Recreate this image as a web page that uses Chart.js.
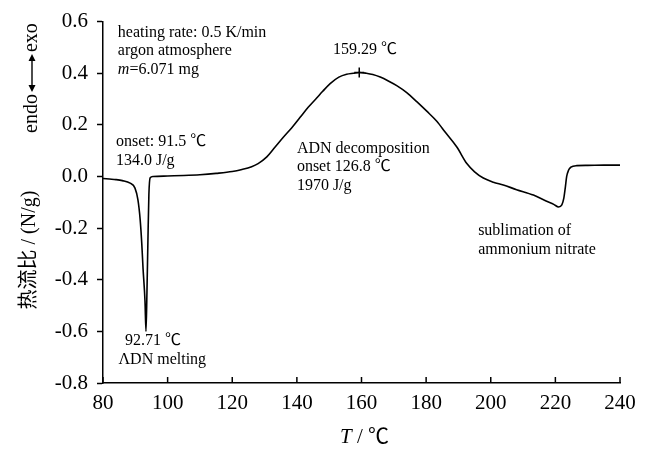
<!DOCTYPE html>
<html>
<head>
<meta charset="utf-8">
<script src="https://cdn.jsdelivr.net/npm/chart.js@4"></script>
<style>
  body { margin: 0; background: #fff; }
  canvas { display: block; }
</style>
</head>
<body>
<canvas id="dscChart" width="648" height="461"></canvas>
<script>
// DSC curve
const temps = [80, 82, 84, 86, 88.4, 89.9, 90.8, 91.5, 92.0, 92.4, 93.0, 93.3, 93.6, 93.9, 94.2, 94.6, 95.5,
  100, 105, 110, 115, 120, 123, 126, 128, 130.7, 133, 135.8, 138.5, 141, 143.5, 146.2, 148, 150.3, 153, 155.4,
  157.5, 159.3, 161.5, 163.5, 165.8, 168.3, 170.9, 174, 177.1, 180.2, 183.3, 186, 189.5, 192.6, 195, 197.7,
  200.8, 203.9, 208, 213.2, 217.3, 219.5, 221, 222, 222.6, 223.1, 223.5, 224.1, 224.8, 226.6, 230, 235, 240];
const heatFlow = [-0.008, -0.010, -0.012, -0.016, -0.026, -0.045, -0.09, -0.167, -0.26, -0.358, -0.484, -0.60, -0.45, -0.25, -0.07, -0.005, 0.0,
  0.002, 0.004, 0.007, 0.012, 0.019, 0.027, 0.038, 0.05, 0.076, 0.11, 0.152, 0.19, 0.229, 0.268, 0.305, 0.33, 0.36, 0.385, 0.396,
  0.40, 0.403, 0.40, 0.395, 0.385, 0.37, 0.352, 0.325, 0.29, 0.253, 0.214, 0.17, 0.114, 0.05, 0.018, -0.006,
  -0.022, -0.033, -0.051, -0.072, -0.096, -0.108, -0.118, -0.11, -0.085, -0.04, 0.0, 0.025, 0.036, 0.042, 0.043, 0.044, 0.044];

// decomposition peak marker
const peakT = [159.3];
const peakV = [0.403];

// axis ticks
const xTicks = [80, 100, 120, 140, 160, 180, 200, 220, 240];
const yTicks = [-0.8, -0.6, -0.4, -0.2, 0.0, 0.2, 0.4, 0.6];

// text notes: [text, T, heat flow, align]
const notes = [
  ['heating rate: 0.5 K/min', 84.6, 0.558, 'left'],
  ['argon atmosphere', 84.6, 0.486, 'left'],
  ['=6.071 mg', 84.6, 0.413, 'left', 'm'],
  ['onset: 91.5 ℃', 84.0, 0.135, 'left'],
  ['134.0 J/g', 84.0, 0.062, 'left'],
  ['159.29 ℃', 161.1, 0.489, 'center'],
  ['ADN decomposition', 140.0, 0.108, 'left'],
  ['onset 126.8 ℃', 140.0, 0.039, 'left'],
  ['1970 J/g', 140.0, -0.037, 'left'],
  ['92.71 ℃', 86.8, -0.636, 'left'],
  ['ΛDN melting', 84.8, -0.709, 'left'],
  ['sublimation of', 196.1, -0.209, 'left'],
  ['ammonium nitrate', 196.1, -0.285, 'left']
];

const serif = "'Liberation Serif', 'Noto Sans CJK SC', serif";

// text, inward x ticks and axis titles
const decorPlugin = {
  id: 'decor',
  afterDraw(chart) {
    const ctx = chart.ctx;
    const xs = chart.scales.x, ys = chart.scales.y;
    const area = chart.chartArea;
    ctx.save();
    ctx.strokeStyle = '#000';
    ctx.fillStyle = '#000';

    // x ticks point inward
    ctx.lineWidth = 1.5;
    xTicks.forEach(t => {
      const px = xs.getPixelForValue(t);
      ctx.beginPath();
      ctx.moveTo(px, area.bottom);
      ctx.lineTo(px, area.bottom - 6);
      ctx.stroke();
    });

    // notes
    ctx.font = '16px ' + serif;
    ctx.textBaseline = 'middle';
    notes.forEach(n => {
      let px = xs.getPixelForValue(n[1]);
      const py = ys.getPixelForValue(n[2]);
      ctx.textAlign = n[3];
      if (n[4]) {
        ctx.font = 'italic 16px ' + serif;
        ctx.textAlign = 'left';
        ctx.fillText(n[4], px, py);
        px += ctx.measureText(n[4]).width;
        ctx.font = '16px ' + serif;
      }
      ctx.fillText(n[0], px, py);
    });

    // x title: T / ℃
    ctx.font = 'italic 21px ' + serif;
    const tW = ctx.measureText('T').width;
    ctx.font = '21px ' + serif;
    const restW = ctx.measureText(' / ℃').width;
    const cx = (area.left + area.right) / 2 + 3;
    let sx = cx - (tW + restW) / 2;
    ctx.textAlign = 'left';
    ctx.font = 'italic 21px ' + serif;
    ctx.fillText('T', sx, 437);
    ctx.font = '21px ' + serif;
    ctx.fillText(' / ℃', sx + tW, 437);

    // y title, rotated
    ctx.save();
    ctx.translate(30, 250);
    ctx.rotate(-Math.PI / 2);
    ctx.textAlign = 'center';
    ctx.font = '20px ' + serif;
    ctx.fillText('热流比 / (N/g)', 0, 0);
    ctx.restore();

    ctx.save();
    ctx.translate(32, 73);
    ctx.rotate(-Math.PI / 2);
    ctx.textAlign = 'left';
    ctx.font = '20px ' + serif;
    let lx = -60;
    ctx.fillText('endo', lx, 0);
    lx += ctx.measureText('endo').width + 2;
    const ax0 = lx, ax1 = lx + 38;
    ctx.lineWidth = 1.4;
    ctx.beginPath();
    ctx.moveTo(ax0 + 5, 0);
    ctx.lineTo(ax1 - 5, 0);
    ctx.stroke();
    ctx.beginPath();
    ctx.moveTo(ax0, 0); ctx.lineTo(ax0 + 7, -3.5); ctx.lineTo(ax0 + 7, 3.5); ctx.closePath();
    ctx.moveTo(ax1, 0); ctx.lineTo(ax1 - 7, -3.5); ctx.lineTo(ax1 - 7, 3.5); ctx.closePath();
    ctx.fill();
    ctx.fillText('exo', ax1 + 2, 0);
    ctx.restore();

    ctx.restore();
  }
};

const ctx = document.getElementById('dscChart').getContext('2d');
new Chart(ctx, {
  type: 'line',
  data: {
    datasets: [{
      data: temps.map((t, i) => ({ x: t, y: heatFlow[i] })),
      borderColor: '#000',
      borderWidth: 1.6,
      pointRadius: 0,
      cubicInterpolationMode: 'monotone',
      fill: false
    }, {
      data: peakT.map((t, i) => ({ x: t, y: peakV[i] })),
      showLine: false,
      pointStyle: 'cross',
      pointRadius: 5,
      borderColor: '#000',
      borderWidth: 1.5
    }]
  },
  options: {
    responsive: false,
    animation: false,
    layout: { padding: { left: 0, top: 16, right: 28, bottom: 0 } },
    plugins: { legend: { display: false }, tooltip: { enabled: false } },
    scales: {
      x: {
        type: 'linear',
        min: 80, max: 240,
        afterBuildTicks: s => { s.ticks = xTicks.map(v => ({ value: v })); },
        ticks: { color: '#000', font: { family: serif, size: 21 }, padding: 8, maxRotation: 0 },
        grid: { drawOnChartArea: false, drawTicks: false },
        border: { color: '#000', width: 1.5 },
        afterFit: s => { s.height = 78; }
      },
      y: {
        min: -0.8, max: 0.6,
        afterBuildTicks: s => { s.ticks = yTicks.map(v => ({ value: v })); },
        ticks: {
          color: '#000', font: { family: serif, size: 21 }, padding: 9,
          callback: v => Math.abs(v) < 1e-9 ? '0.0' : Number(v).toFixed(1)
        },
        grid: { drawOnChartArea: false, tickLength: 6, color: '#000', tickWidth: 1.5 },
        border: { color: '#000', width: 1.5 },
        afterFit: s => { s.width = 103; }
      }
    }
  },
  plugins: [decorPlugin]
});
</script>
</body>
</html>
